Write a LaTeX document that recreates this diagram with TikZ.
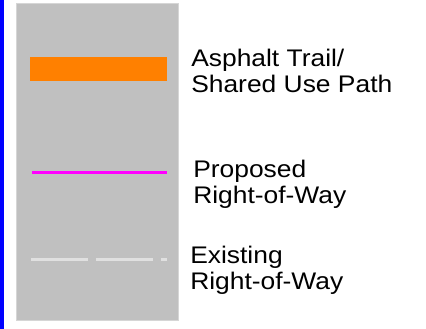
\documentclass[tikz,border=0pt]{standalone}
\usepackage{fontspec}
\setmainfont[FakeStretch=1.1]{Liberation Sans}
\usepackage{tikz}
\definecolor{panelgray}{HTML}{C0C0C0}
\definecolor{paneledge}{HTML}{D6D6D6}
\definecolor{trailorange}{HTML}{FF8000}
\definecolor{rowmagenta}{HTML}{FF00FF}
\definecolor{rowexist}{HTML}{E0E0E0}
\tikzset{lbl/.style={anchor=north west, inner sep=0pt, align=left,
  font=\fontsize{18}{19.5}\selectfont}}
\tikzset{swatch/.style={line width=2.25pt}}

\begin{document}
\begin{tikzpicture}[x=0.75pt,y=-0.75pt]
  \useasboundingbox (0,0) rectangle (426,329);
  \fill[blue] (0,0) rectangle (4,329);
  \filldraw[draw=paneledge, fill=panelgray, line width=0.75pt] (16,3) rectangle (178,320);
  % legend swatches
  \fill[trailorange] (30,57) rectangle (167,81);
  \draw[swatch, rowmagenta] (32,172) -- (167,172);
  \draw[swatch, rowexist, dash pattern=on 42.75pt off 6pt] (31,259) -- (167,259);
  % legend texts
  \node[lbl] (trail) at (191,49) {Asphalt Trail/\\Shared Use Path};
  \node[lbl] (proposed) at (193,160) {Proposed\\Right-of-Way};
  \node[lbl] (existing) at (190,246) {Existing\\Right-of-Way};
\end{tikzpicture}
\end{document}
